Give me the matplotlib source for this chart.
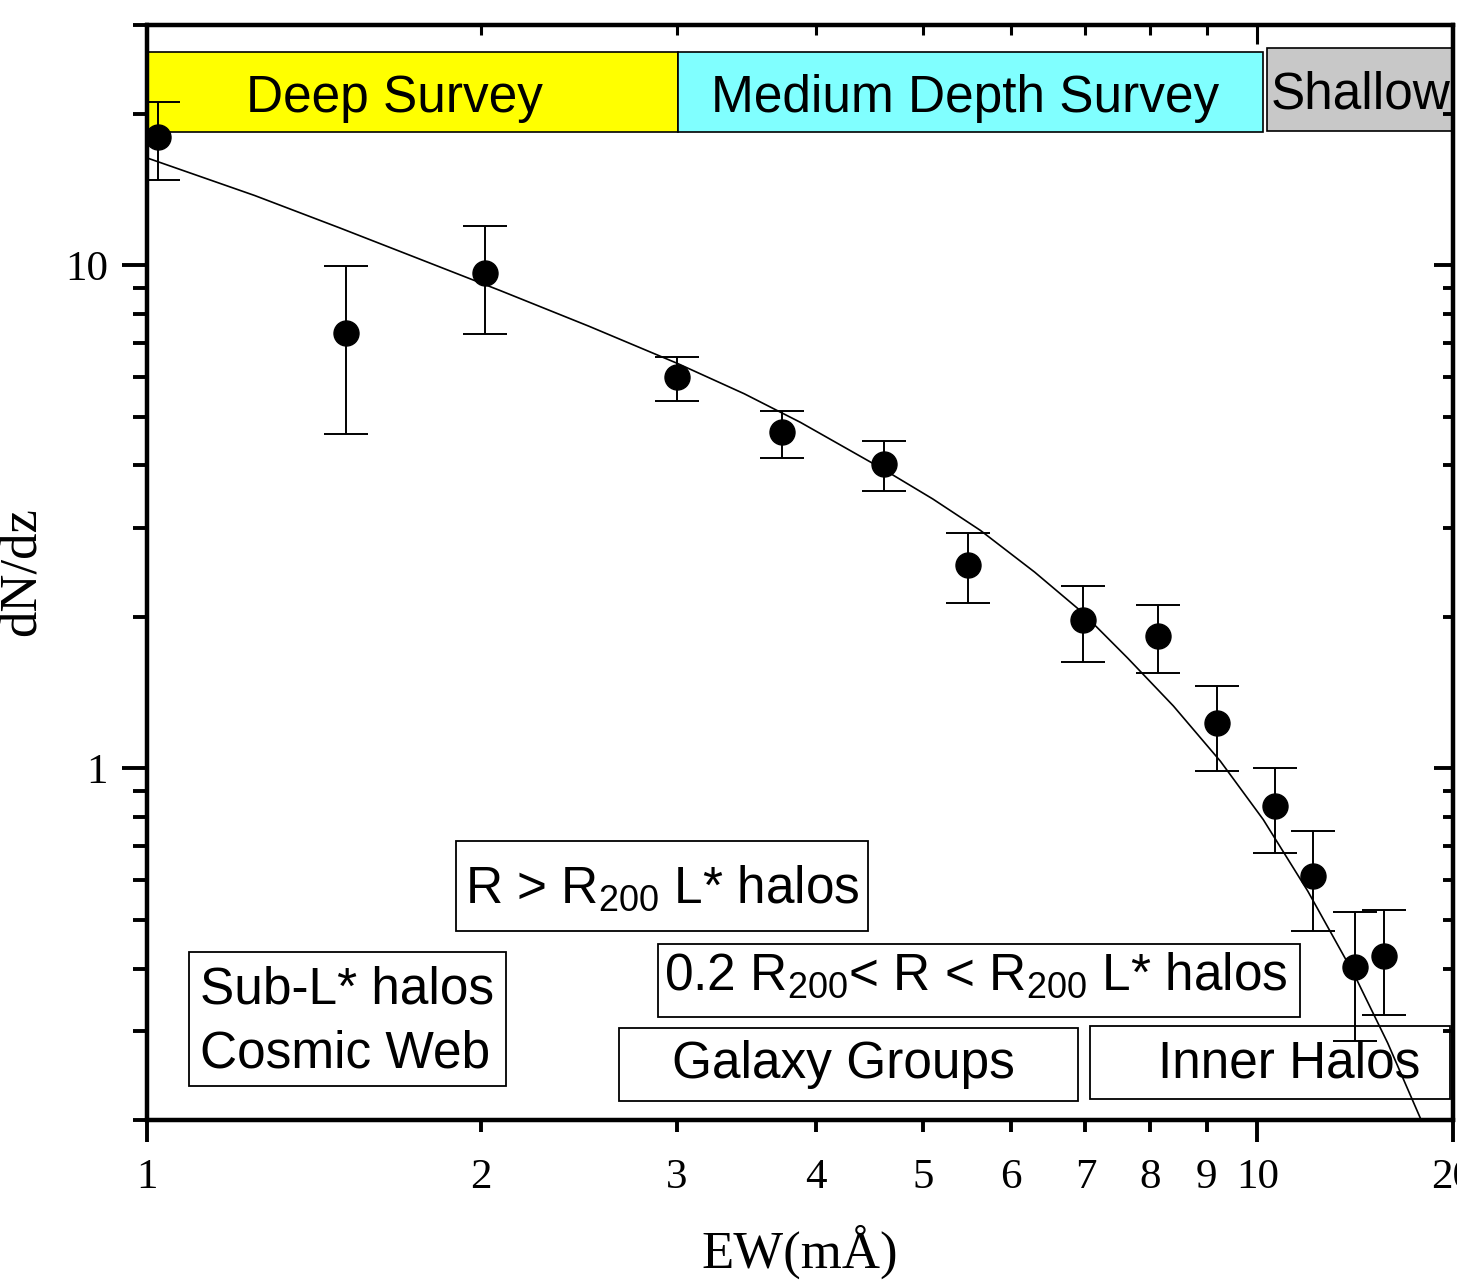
import numpy as np
import matplotlib.pyplot as plt
from matplotlib.patches import Rectangle
from matplotlib.transforms import blended_transform_factory
import matplotlib.ticker as mticker

plt.rcParams['mathtext.fontset'] = 'custom'
plt.rcParams['mathtext.rm'] = 'Liberation Sans'
plt.rcParams['mathtext.it'] = 'Liberation Sans:italic'

# measured dN/dz per EW bin, with asymmetric error bar limits
ew = [1.023, 1.511, 2.016, 3.00, 3.73, 4.61, 5.49, 6.97, 8.13, 9.20, 10.38, 11.23, 12.23, 12.99]
dndz = [17.99, 7.32, 9.64, 5.98, 4.65, 4.03, 2.54, 1.97, 1.83, 1.23, 0.840, 0.612, 0.403, 0.424]
dndz_hi = [21.1, 9.95, 11.96, 6.56, 5.14, 4.48, 2.94, 2.30, 2.11, 1.46, 1.00, 0.749, 0.517, 0.524]
dndz_lo = [14.77, 4.61, 7.29, 5.38, 4.13, 3.56, 2.13, 1.63, 1.55, 0.986, 0.68, 0.474, 0.287, 0.324]

# fitted model curve
fit_ew = [1.0, 1.25, 1.492, 1.75, 2.08, 2.5, 3.002, 3.45, 3.876, 4.62, 5.1, 5.63, 6.3,
          6.93, 7.64, 8.4, 9.26, 10.12, 11.1, 12.23, 13.1, 14.03]
fit_dndz = [16.33, 13.75, 11.85, 10.33, 8.9, 7.56, 6.38, 5.55, 4.87, 3.91, 3.43, 2.97, 2.454,
            2.055, 1.656, 1.33, 1.033, 0.791, 0.570, 0.388, 0.2845, 0.2008]

# survey coverage bands along EW
surveys = ['Deep Survey', 'Medium Depth Survey', 'Shallow']
survey_lo = [1.0, 3.01, 10.19]
survey_hi = [3.01, 10.12, 15.0]
survey_colors = ['#ffff00', '#80ffff', '#c8c8c8']

x_major = [1, 10, 15]
x_major_labels = ['1', '10', '20']
x_minor = [2, 3, 4, 5, 6, 7, 8, 9]

W, H = 1457, 1286
fig = plt.figure(figsize=(W / 100, H / 100), dpi=100)
ax = fig.add_axes([147 / W, 1 - 1120 / H, (1453 - 147) / W, (1120 - 25) / H])

serif = 'Liberation Serif'
sans = 'Liberation Sans'

ax.set_xscale('log')
ax.set_yscale('log')
ax.set_xlim(1, 15)
ax.set_ylim(0.2, 30)

# survey bands (x in data, y in axes fraction)
trans = blended_transform_factory(ax.transData, ax.transAxes)
text_x = {'Deep Survey': 1.672, 'Medium Depth Survey': 5.46, 'Shallow': 12.38}
for name, lo, hi, c in zip(surveys, survey_lo, survey_hi, survey_colors):
    if name == 'Shallow':
        y0, y1, off = 0.9032, 0.979, 0.021
    else:
        y0, y1, off = 0.9023, 0.9753, 0.018
    ax.add_patch(Rectangle((lo, y0), hi - lo, y1 - y0, transform=trans,
                           facecolor=c, edgecolor='k', lw=1.2, zorder=1))
    ax.text(text_x[name], y0 + off, name, transform=trans, ha='center',
            va='baseline', fontsize=37, family=sans, zorder=2)

ax.plot(fit_ew, fit_dndz, color='k', lw=1.2, zorder=3)
yerr = [np.array(dndz) - np.array(dndz_lo), np.array(dndz_hi) - np.array(dndz)]
ax.errorbar(ew, dndz, yerr=yerr, fmt='o', ms=18, color='k', ecolor='k',
            elinewidth=1.4, capsize=16, capthick=1.4, zorder=4)

# bottom / left ticks
ax.xaxis.set_major_locator(mticker.FixedLocator(x_major))
ax.xaxis.set_major_formatter(mticker.FixedFormatter(x_major_labels))
ax.xaxis.set_minor_locator(mticker.FixedLocator(x_minor))
ax.xaxis.set_minor_formatter(mticker.FixedFormatter([str(v) for v in x_minor]))
ax.tick_params(axis='x', which='major', direction='out', length=16, width=2.8, pad=12,
               labelsize=31)
ax.tick_params(axis='x', which='minor', direction='out', length=8.6, width=2.8, pad=19.4,
               labelsize=31)
ax.yaxis.set_major_locator(mticker.FixedLocator([1, 10]))
ax.yaxis.set_major_formatter(mticker.FixedFormatter(['1', '10']))
ax.yaxis.set_minor_locator(mticker.LogLocator(base=10, subs=np.arange(2, 10)))
ax.yaxis.set_minor_formatter(mticker.NullFormatter())
ax.tick_params(axis='y', which='major', direction='out', length=18, width=2.8, pad=10,
               labelsize=31)
ax.tick_params(axis='y', which='minor', direction='out', length=10, width=2.8)
for lab in ax.get_xticklabels(which='both') + ax.get_yticklabels():
    lab.set_family(serif)
for s in ax.spines.values():
    s.set_linewidth(3)

# top and right ticks point inward
axt = ax.twiny()
axt.set_xscale('log')
axt.set_xlim(ax.get_xlim())
axt.xaxis.set_major_locator(mticker.FixedLocator([10]))
axt.xaxis.set_minor_locator(mticker.FixedLocator(x_minor))
axt.tick_params(axis='x', which='major', direction='in', length=14, width=2.2, labeltop=False)
axt.tick_params(axis='x', which='minor', direction='in', length=7, width=2.2)
axt.xaxis.set_minor_formatter(mticker.NullFormatter())
axr = ax.twinx()
axr.set_yscale('log')
axr.set_ylim(ax.get_ylim())
axr.yaxis.set_major_locator(mticker.FixedLocator([1, 10]))
axr.yaxis.set_minor_locator(mticker.LogLocator(base=10, subs=np.arange(2, 10)))
axr.tick_params(axis='y', which='major', direction='in', length=14, width=2.8, labelright=False)
axr.tick_params(axis='y', which='minor', direction='in', length=7, width=2.8)
axr.yaxis.set_minor_formatter(mticker.NullFormatter())
for a in (axt, axr):
    for s in a.spines.values():
        s.set_linewidth(3)

fig.text(800 / W, 1 - 1268 / H, 'EW(mÅ)', ha='center', va='baseline',
         fontsize=38, family=serif)
fig.text(46 / W, 1 - 572 / H, 'dN/dz', ha='right', va='center', rotation=90,
         fontsize=38, family=serif)


# region labels in framed boxes (pixel layout)
def framed(x0, y0, x1, y1):
    fig.patches.append(Rectangle((x0 / W, 1 - y1 / H), (x1 - x0) / W, (y1 - y0) / H,
                                 transform=fig.transFigure, fill=False,
                                 edgecolor='k', lw=1.3, zorder=5))


def label(x, y, s, ha='left'):
    fig.text(x / W, 1 - y / H, s, ha=ha, va='baseline', fontsize=37, family=sans)


framed(456, 841, 868, 931)
label(662, 903, r'R > R$_{\mathrm{200}}$ L* halos', ha='center')
framed(189, 952, 506, 1086)
label(200, 1003, 'Sub-L* halos')
label(200, 1068, 'Cosmic Web')
framed(658, 944, 1300, 1017)
label(976, 990, r'0.2 R$_{\mathrm{200}}$< R < R$_{\mathrm{200}}$ L* halos', ha='center')
framed(619, 1028, 1078, 1101)
label(843, 1078, 'Galaxy Groups', ha='center')
framed(1090, 1026, 1450, 1099)
label(1289, 1078, 'Inner Halos', ha='center')

fig.savefig('out.png', dpi=100)
